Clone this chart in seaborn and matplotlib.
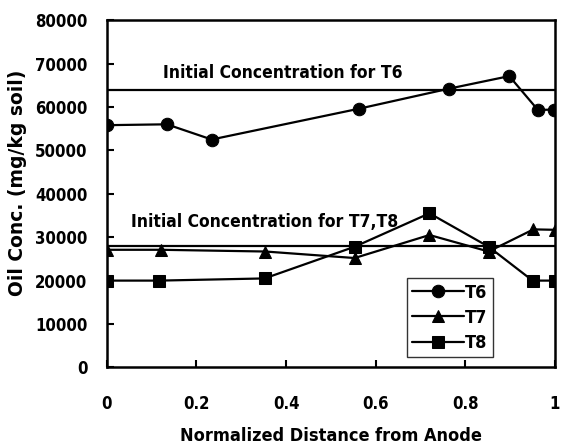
import pandas as pd
import matplotlib.pyplot as plt
import seaborn as sns

# data
x_t6 = [0.0, 0.134, 0.234, 0.563, 0.763, 0.898, 0.962, 0.998]
y_t6 = [55800, 56000, 52500, 59600, 64200, 67100, 59300, 59400]

x_t7 = [0.0, 0.12, 0.354, 0.553, 0.72, 0.852, 0.952, 1.0]
y_t7 = [27100, 27100, 26700, 25200, 30500, 26700, 31800, 31700]

x_t8 = [0.0, 0.117, 0.352, 0.553, 0.72, 0.852, 0.95, 1.0]
y_t8 = [20000, 20000, 20500, 27800, 35500, 27800, 20000, 20000]

init_t6 = 64000
init_t7t8 = 28000

series = ["T6", "T7", "T8"]
markers = {"T6": "o", "T7": "^", "T8": "s"}

df = pd.concat([
    pd.DataFrame({"x": x_t6, "y": y_t6, "series": "T6"}),
    pd.DataFrame({"x": x_t7, "y": y_t7, "series": "T7"}),
    pd.DataFrame({"x": x_t8, "y": y_t8, "series": "T8"}),
])

sns.set_theme(style="ticks")
plt.rcParams["font.family"] = ["DejaVu Sans"]
plt.rcParams["font.stretch"] = "condensed"
plt.rcParams["font.weight"] = "bold"
plt.rcParams["text.color"] = "black"
plt.rcParams["axes.labelcolor"] = "black"
plt.rcParams["xtick.color"] = "black"
plt.rcParams["ytick.color"] = "black"
plt.rcParams["axes.edgecolor"] = "black"

fig = plt.figure(figsize=(5.62, 4.47), dpi=100)
ax = fig.add_axes([0.19, 0.178, 0.7975, 0.777])

for s in series:
    sub = df[df["series"] == s]
    sns.lineplot(data=sub, x="x", y="y", ax=ax, color="black", linewidth=1.6,
                 marker=markers[s], markersize=9, markeredgecolor="black",
                 markerfacecolor="black", label=s, sort=False)

ax.axhline(init_t6, color="black", linewidth=1.6, zorder=1)
ax.axhline(init_t7t8, color="black", linewidth=1.6, zorder=1)
ax.text(0.126, 66700, "Initial Concentration for T6", fontsize=12.5,
        fontweight="bold", fontstretch="condensed", va="baseline")
ax.text(0.054, 32400, "Initial Concentration for T7,T8", fontsize=12.5,
        fontweight="bold", fontstretch="condensed", va="baseline")

ax.set_xlim(0, 1)
ax.set_ylim(0, 80000)
ax.set_xticks([0, 0.2, 0.4, 0.6, 0.8, 1])
ax.set_xticklabels(["0", "0.2", "0.4", "0.6", "0.8", "1"])
ax.set_yticks(range(0, 80001, 10000))
ax.tick_params(direction="in", length=5, width=1.5, labelsize=12)
ax.tick_params(axis="x", pad=20)
ax.tick_params(axis="y", pad=14)
for lab in ax.get_xticklabels() + ax.get_yticklabels():
    lab.set_fontweight("bold")
    lab.set_fontstretch("condensed")
for sp in ax.spines.values():
    sp.set_visible(True)
    sp.set_linewidth(1.8)

ax.set_xlabel("Normalized Distance from Anode", fontsize=13,
              fontweight="bold", fontstretch="condensed", labelpad=10)
ax.set_ylabel("Oil Conc. (mg/kg soil)", fontsize=13.5, fontweight="bold",
              fontstretch="normal")
ax.yaxis.set_label_coords(-0.178, 0.531)

leg = ax.legend(loc="lower right", bbox_to_anchor=(0.862, 0.029), fontsize=13,
                frameon=True, fancybox=False, handlelength=2.9,
                handletextpad=0.05, borderpad=0.3, labelspacing=0.4,
                borderaxespad=0)
leg.get_frame().set_edgecolor("black")
leg.get_frame().set_linewidth(1.0)
for t in leg.get_texts():
    t.set_fontweight("bold")
    t.set_fontstretch("condensed")

fig.savefig("out.png", dpi=100)
